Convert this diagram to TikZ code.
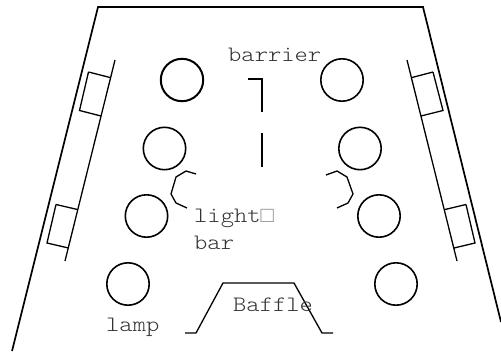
\documentclass[tikz,border=0pt]{standalone}
\usepackage{fontspec}
\setmonofont[FakeStretch=1.15]{Latin Modern Mono Light}
\newfontfamily\boxfont{Liberation Mono}
\tikzset{
  lampc/.style={draw,circle,line width=1.6pt,minimum size=42.4pt,inner sep=0pt},
  wall/.style={draw,line width=1.7pt},
  thin line/.style={draw,line width=1.3pt},
  lbl/.style={font=\ttfamily\fontsize{22}{22}\selectfont,text=black!80,inner sep=0pt,anchor=base west},
}
\begin{document}
\begin{tikzpicture}[x=1pt,y=-1pt,line join=miter]
\useasboundingbox (0,0) rectangle (501,351);
\draw[wall] (12,351) -- (98,7) -- (423,7) -- (501,322);
\node[lampc,line width=2pt] (l1) at (182,80) {};
\node[lampc] (l2) at (164.5,148.5) {};
\node[lampc] (l3) at (146.5,216) {};
\node[lampc] (l4) at (128,284) {};
\node[lampc] (r1) at (342,80) {};
\node[lampc] (r2) at (360,148.5) {};
\node[lampc] (r3) at (379,216) {};
\node[lampc] (r4) at (396,284) {};
\draw[thin line] (115,60) -- (65,261);
\draw[thin line] (88.5,72) -- (110,77.5) (88.5,72) -- (79.5,110.5) -- (101,116);
\draw[thin line] (56,204.5) -- (77.5,209.5) (56,204.5) -- (47,243) -- (68.5,248);
\draw[thin line] (407,60) -- (457,261);
\draw[thin line] (433,72) -- (412,77.5) (433,72) -- (443,110.5) -- (421,116);
\draw[thin line] (466,204.5) -- (445,209.5) (466,204.5) -- (475,243) -- (454,248);
\draw[thin line] (248,79) -- (262,79) -- (262,112);
\draw[thin line] (262,133) -- (262,167);
\draw[thin line] (196,174) -- (186,171) -- (176,177) -- (171,194) -- (176,203) -- (187,208);
\draw[thin line] (326,175) -- (337,171) -- (347,177) -- (353,194) -- (348,203) -- (337,208);
\draw[thin line] (185,333) -- (196,333) -- (223,283) -- (294,283) -- (322,333) -- (333,333);
\node[lbl] (t1) at (228,61) {barrier};
\node[lbl] (t2) at (194,222) {light{\boxfont\color{black!45}\char"25A1}};
\node[lbl] (t3) at (194,249) {bar};
\node[lbl] (t4) at (106,331) {lamp};
\node[lbl] (t5) at (233,311) {Baffle};
\end{tikzpicture}
\end{document}
